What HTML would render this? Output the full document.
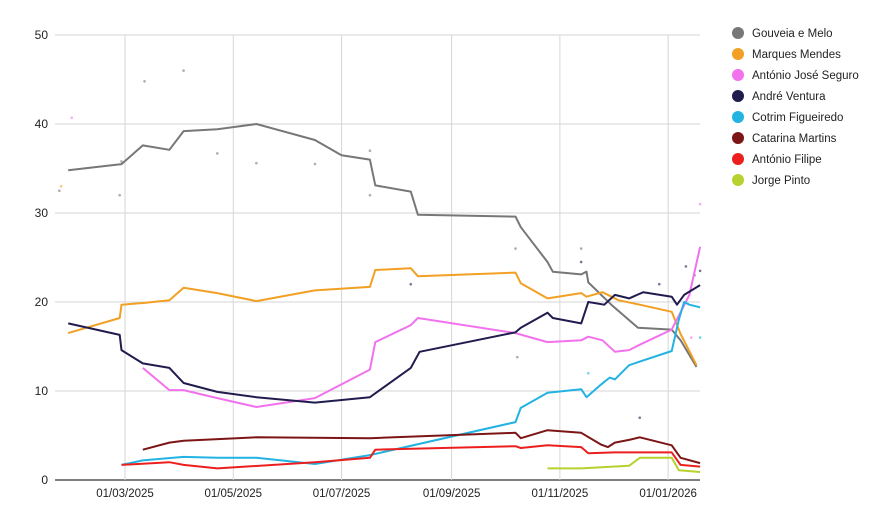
<!DOCTYPE html>
<html><head><meta charset="utf-8"><style>
body{margin:0;background:#fff;font-family:"Liberation Sans",sans-serif;}
svg{display:block}
</style></head><body>
<svg id="chart" width="870" height="522" viewBox="0 0 870 522"></svg>
<script>
const yTicks=[0,10,20,30,40,50];
const xTickDays=[59,120,181,243,304,365];
const xTickLabels=["01/03/2025","01/05/2025","01/07/2025","01/09/2025","01/11/2025","01/01/2026"];
const names=["Gouveia e Melo","Marques Mendes","António José Seguro","André Ventura","Cotrim Figueiredo","Catarina Martins","António Filipe","Jorge Pinto"];
const colors=["#777777","#f2a024","#f272ee","#211c4e","#22b3e2","#7c1515","#ec1f1f","#b7d12e"];
const gouveiaDays=[27,57,69,84,92,111,133,166,181,197,200,220,224,279,282,297,300,316,319,320,333,348,367,372,381];
const gouveiaVals=[34.8,35.5,37.6,37.1,39.2,39.4,40.0,38.2,36.5,36.0,33.1,32.4,29.8,29.6,28.4,24.5,23.4,23.1,23.4,22.2,19.7,17.1,16.9,15.7,12.7];
const mendesDays=[27,56,57,70,84,92,111,133,166,197,200,220,224,279,282,297,316,319,328,337,349,367,372,381];
const mendesVals=[16.5,18.2,19.7,19.9,20.2,21.6,21.0,20.1,21.3,21.7,23.6,23.8,22.9,23.3,22.1,20.4,21.0,20.6,21.1,20.2,19.7,18.9,16.4,12.9];
const seguroDays=[69,84,92,111,133,166,197,200,220,224,279,297,316,320,328,335,343,349,367,377,383];
const seguroVals=[12.6,10.1,10.1,9.2,8.2,9.2,12.4,15.5,17.4,18.2,16.5,15.5,15.7,16.1,15.7,14.4,14.6,15.2,16.9,20.8,26.2];
const venturaDays=[27,56,57,69,84,92,111,133,166,197,220,225,279,282,297,300,316,320,329,335,343,351,367,370,374,383];
const venturaVals=[17.6,16.3,14.6,13.1,12.6,10.9,9.9,9.3,8.7,9.3,12.6,14.4,16.6,17.1,18.8,18.2,17.6,20.0,19.7,20.8,20.4,21.1,20.6,19.7,20.8,21.9];
const cotrimDays=[57,69,92,111,133,166,197,279,282,297,316,319,327,332,335,343,349,367,371,374,377,383];
const cotrimVals=[1.7,2.2,2.6,2.5,2.5,1.8,2.8,6.5,8.1,9.8,10.2,9.3,10.7,11.5,11.3,12.9,13.3,14.5,18.0,20.0,19.7,19.4];
const martinsDays=[69,84,92,133,197,279,282,297,316,327,331,335,343,349,367,372,383];
const martinsVals=[3.4,4.2,4.4,4.8,4.7,5.3,4.7,5.6,5.3,4.0,3.7,4.2,4.5,4.8,3.9,2.5,1.9];
const filipeDays=[57,84,92,111,166,197,200,279,282,297,316,320,335,349,367,372,383];
const filipeVals=[1.7,2.0,1.7,1.3,2.0,2.5,3.4,3.8,3.6,3.9,3.7,3.0,3.1,3.1,3.1,1.7,1.5];
const pintoDays=[297,316,343,349,367,371,383];
const pintoVals=[1.3,1.3,1.6,2.5,2.5,1.1,0.9];
const dotDays=[22,23,29,56,57,70,92,111,133,166,197,197,220,279,280,316,316,320,349,360,375,378,380,383,383,383];
const dotVals=[32.5,33.0,40.7,32.0,35.8,44.8,46.0,36.7,35.6,35.5,37.0,32.0,22.0,26.0,13.8,26.0,24.5,12.0,7.0,22.0,24.0,16.0,23.0,31.0,23.5,16.0];
const dotSeries=[0,1,2,0,0,0,0,0,0,0,0,0,3,0,0,0,3,4,3,3,3,2,0,2,3,4];

const NS="http://www.w3.org/2000/svg";
const svg=document.getElementById('chart');
const X0=55,X1=700,Y0=480,Y50=35;
function xs(d){return 125+(d-59)*1.775;}
function ys(v){return Y0-(v/50)*(Y0-Y50);}
function mk(t,a,p){const e=document.createElementNS(NS,t);for(const k in a)e.setAttribute(k,a[k]);(p||svg).appendChild(e);return e;}

yTicks.forEach(v=>{
  const l=mk('line',{x1:X0,x2:X1,y1:ys(v),y2:ys(v),stroke:v===0?'#333':'#d6d6d6','stroke-width':v===0?1.2:1});
  
  
  const t=mk('text',{x:X0-7,y:ys(v)+4,'text-anchor':'end','font-size':12,fill:'#222'});
  t.textContent=v;
  
  
});
xTickDays.forEach((d,i)=>{
  const l=mk('line',{x1:xs(d),x2:xs(d),y1:Y50,y2:Y0,stroke:'#d6d6d6','stroke-width':1});
  
  
  const t=mk('text',{x:xs(d),y:497,'text-anchor':'middle','font-size':11.5,fill:'#222'});
  t.textContent=xTickLabels[i];
  
  
});
dotDays.forEach((d,i)=>{
  const c=mk('circle',{cx:xs(d),cy:ys(dotVals[i]),r:1.3,fill:colors[dotSeries[i]],opacity:0.6});
  
  
});
const series=[[gouveiaDays,gouveiaVals],[mendesDays,mendesVals],[seguroDays,seguroVals],[venturaDays,venturaVals],[cotrimDays,cotrimVals],[martinsDays,martinsVals],[filipeDays,filipeVals],[pintoDays,pintoVals]];
series.forEach((s,i)=>{
  const pts=s[0].map((d,j)=>xs(d).toFixed(1)+','+ys(s[1][j]).toFixed(1)).join(' ');
  const p=mk('polyline',{points:pts,fill:'none',stroke:colors[i],'stroke-width':2,'stroke-linejoin':'round'});
  
  
});
names.forEach((n,i)=>{
  const g=mk('g',{});
  
  
  const y=33+i*21;
  mk('circle',{cx:738,cy:y,r:6,fill:colors[i]},g);
  const t=mk('text',{x:752,y:y+4,'font-size':11.5,fill:'#222'},g);
  t.textContent=n;
});
</script>
</body></html>
